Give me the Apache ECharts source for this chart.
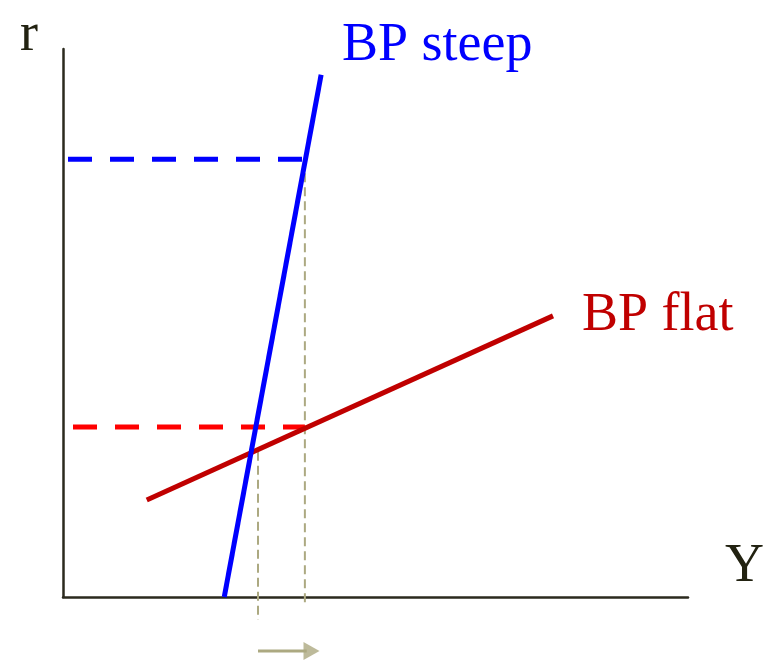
<!DOCTYPE html>
<html><head><meta charset="utf-8">
<script src="https://cdn.jsdelivr.net/npm/echarts@6/dist/echarts.min.js"></script>
<style>html,body{margin:0;padding:0;background:#fff}#c{width:772px;height:661px}</style>
</head><body><div id="c"></div>
<script>
// Abstract coordinates (0-100 on each axis)
const steepX = [25.8, 41.3];
const steepY = [0, 95.3];
const flatX = [13.4, 78.4];
const flatY = [17.7, 51.3];
const highRateX = [0.8, 38.7];
const highRateY = [79.9, 79.9];
const lowRateX = [1.6, 38.7];
const lowRateY = [31.0, 31.0];
const guide1X = [31.2, 31.2];
const guide1Y = [26.5, -4.2];
const guide2X = [38.7, 38.7];
const guide2Y = [79.9, -1.8];
const arrowX = [31.2, 39.0];
const arrowY = [-9.85, -9.85];
const arrowHead = [[39.76, -9.85]];
const labels = { r: 'r', y: 'Y', steep: 'BP steep', flat: 'BP flat' };

const pts = (xs, ys) => xs.map((x, i) => [x, ys[i]]);
const serif = '"Liberation Serif", "DejaVu Serif", serif';
const gray = '#aca981';

const lineSeries = (data, color, width, type, z) => ({
  type: 'line', data, symbol: 'none', clip: false, silent: true, z: z || 2,
  lineStyle: { color, width, type: type || 'solid', cap: 'butt' }
});

const chart = echarts.init(document.getElementById('c'));
chart.setOption({
  animation: false,
  grid: { left: 63, right: 84, top: 49, bottom: 64 },
  xAxis: {
    type: 'value', min: 0, max: 100,
    axisLine: { show: true, lineStyle: { color: '#2b2a1e', width: 2.5 } },
    axisTick: { show: false }, axisLabel: { show: false }, splitLine: { show: false }
  },
  yAxis: {
    type: 'value', min: 0, max: 100,
    axisLine: { show: true, lineStyle: { color: '#2b2a1e', width: 2.5 } },
    axisTick: { show: false }, axisLabel: { show: false }, splitLine: { show: false }
  },
  series: [
    lineSeries(pts(guide1X, guide1Y), gray, 2, [9, 5], 1),
    lineSeries(pts(guide2X, guide2Y), gray, 2, [9, 5], 1),
    lineSeries(pts(highRateX, highRateY), '#0000ff', 5, [24, 18], 2),
    lineSeries(pts(lowRateX, lowRateY), '#ff0000', 5, [24, 18], 2),
    lineSeries(pts(flatX, flatY), '#c00000', 5, 'solid', 3),
    lineSeries(pts(steepX, steepY), '#0000ff', 5, 'solid', 4),
    lineSeries(pts(arrowX, arrowY), gray, 3, 'solid', 2),
    {
      type: 'scatter', data: arrowHead, clip: false, silent: true,
      symbol: 'triangle', symbolSize: [18, 16], symbolRotate: -90,
      itemStyle: { color: gray }
    }
  ],
  graphic: [
    { type: 'text', left: 20, top: 9, style: { text: labels.r, font: '54px ' + serif, fill: '#222211' } },
    { type: 'text', left: 725, top: 540, style: { text: labels.y, font: '54px ' + serif, fill: '#222211' } },
    { type: 'text', left: 342, top: 19, style: { text: labels.steep, font: '54px ' + serif, fill: '#0000ff' } },
    { type: 'text', left: 582, top: 289, style: { text: labels.flat, font: '54px ' + serif, fill: '#c00000' } }
  ]
});
</script></body></html>
